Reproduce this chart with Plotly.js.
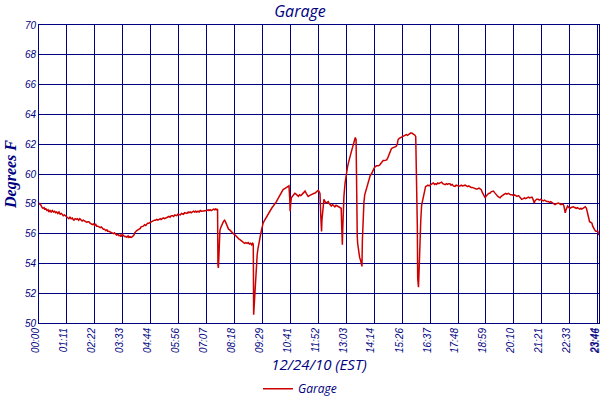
<!DOCTYPE html>
<html>
<head>
<meta charset="utf-8">
<script src="https://cdn.plot.ly/plotly-3.0.1.min.js"></script>
<style>html,body{margin:0;padding:0;background:#fff;}#chart{width:600px;height:400px;}</style>
</head>
<body>
<div id="chart"></div>
<script>
// Tick labels (time of day, hh:mm)
const tickLabels = ['00:00','01:11','02:22','03:33','04:44','05:56','07:07','08:18','09:29','10:41','11:52',
  '13:03','14:14','15:26','16:37','17:48','18:59','20:10','21:21','22:33','23:44','23:46'];

// Sample times (minutes after midnight)
const minutes = [
  0,2,4,6,8,10,13,15,17,20,
  23,25,28,31,34,37,40,42,45,48,
  51,54,57,59,62,65,68,71,74,76,
  79,82,85,87,89,92,95,98,101,104,
  106,110,113,116,119,122,125,127,130,133,
  136,139,142,144,147,150,153,156,159,161,
  164,167,170,173,175,178,181,184,187,190,
  192,195,198,201,204,207,209,212,215,218,
  221,224,227,229,232,235,238,240,242,244,
  246,249,252,255,258,260,263,266,269,272,
  275,277,280,283,286,289,292,294,297,300,
  303,306,309,311,314,317,320,323,326,329,
  331,334,337,340,343,346,348,351,354,357,
  360,363,365,368,371,374,377,380,382,385,
  388,391,394,397,399,402,405,408,411,414,
  416,419,422,425,428,431,433,436,439,442,
  445,448,450,453,455,456,457,458,459,461,
  463,465,467,469,471,473,475,477,479,481,
  483,486,489,492,495,498,501,503,506,509,
  512,515,518,521,524,527,530,533,536,539,
  542,544,546,547,548,550,552,554,556,558,
  560,563,565,567,569,571,574,577,580,583,
  586,588,591,594,597,600,603,605,608,611,
  614,617,620,622,625,628,631,633,635,637,
  639,640,641,643,646,649,652,655,658,661,
  664,667,669,672,675,678,681,684,686,689,
  692,695,698,701,703,706,709,712,714,716,
  718,720,721,723,724,726,728,731,734,737,
  740,743,745,748,751,754,757,760,763,766,
  768,770,771,773,774,775,777,780,782,784,
  786,788,790,792,794,797,799,801,803,805,
  806,808,809,811,812,814,815,817,819,821,
  823,824,826,828,830,832,835,838,841,844,
  848,851,854,857,860,864,868,871,874,877,
  880,883,886,889,892,895,898,901,904,907,
  910,913,915,918,921,924,927,930,933,936,
  939,941,944,947,950,953,956,958,960,962,
  964,965,967,969,971,973,975,977,979,982,
  985,988,991,994,996,999,1002,1005,1008,1011,
  1013,1016,1019,1022,1026,1029,1032,1035,1038,1041,
  1044,1047,1050,1053,1056,1060,1063,1066,1069,1073,
  1076,1079,1083,1086,1089,1092,1095,1098,1101,1104,
  1108,1111,1114,1117,1121,1124,1127,1129,1131,1134,
  1137,1139,1141,1144,1147,1149,1152,1155,1158,1161,
  1163,1166,1169,1172,1175,1178,1180,1183,1186,1189,
  1192,1196,1199,1202,1206,1209,1212,1215,1218,1222,
  1225,1228,1230,1234,1237,1240,1243,1247,1250,1253,
  1256,1259,1262,1264,1266,1268,1272,1275,1278,1281,
  1285,1288,1291,1294,1298,1301,1304,1307,1310,1313,
  1315,1318,1321,1324,1327,1330,1333,1336,1338,1341,
  1343,1345,1347,1350,1353,1356,1359,1362,1365,1369,
  1372,1375,1378,1381,1383,1386,1389,1392,1395,1398,
  1400,1403,1406,1409,1411,1413,1416,1419,1422,1424,
  1426,1427
];

// Garage temperature (degrees F)
const garageTemp = [
  57.95,58.05,57.95,57.8,57.75,57.7,57.75,57.6,57.7,57.55,
  57.6,57.45,57.55,57.45,57.55,57.45,57.5,57.4,57.45,57.35,
  57.45,57.3,57.35,57.3,57.2,57.25,57.2,57.1,57.05,57.0,
  57.1,57.0,57.05,56.95,56.9,57.0,56.95,57.0,56.9,57.0,
  56.95,56.85,56.9,56.85,56.85,56.75,56.8,56.8,56.7,56.65,
  56.6,56.65,56.55,56.65,56.5,56.5,56.45,56.4,56.45,56.4,
  56.3,56.3,56.2,56.25,56.15,56.15,56.1,56.05,56.05,56.0,
  56.05,56.0,55.9,55.95,55.85,55.9,55.8,55.95,55.85,55.8,
  55.8,55.75,55.85,55.75,55.8,55.75,55.8,55.85,55.9,56.05,
  56.15,56.2,56.25,56.3,56.35,56.45,56.45,56.5,56.6,56.55,
  56.65,56.7,56.7,56.75,56.8,56.8,56.85,56.9,56.9,56.95,
  56.9,56.95,57.0,56.95,57.0,57.05,57.0,57.05,57.1,57.1,
  57.15,57.1,57.2,57.2,57.15,57.25,57.25,57.2,57.3,57.3,
  57.25,57.35,57.35,57.3,57.4,57.4,57.35,57.45,57.4,57.45,
  57.4,57.45,57.5,57.45,57.5,57.45,57.5,57.45,57.55,57.5,
  57.5,57.55,57.5,57.55,57.55,57.6,57.55,57.6,57.55,57.6,
  57.65,57.6,57.65,57.6,57.65,53.9,53.7,54.2,55.8,56.2,
  56.4,56.55,56.7,56.75,56.85,56.9,56.8,56.65,56.6,56.4,
  56.3,56.25,56.15,56.05,56.0,55.95,55.85,55.8,55.75,55.65,
  55.6,55.55,55.5,55.45,55.35,55.4,55.35,55.4,55.3,55.35,
  55.25,55.35,55.3,50.55,51.0,52.2,53.2,54.0,54.6,55.0,
  55.4,55.7,56.0,56.25,56.45,56.7,56.85,57.0,57.15,57.25,
  57.4,57.5,57.6,57.75,57.85,57.95,58.05,58.15,58.3,58.45,
  58.6,58.7,58.85,58.95,59.0,59.05,59.1,59.15,59.2,59.2,
  58.3,57.5,57.9,58.4,58.5,58.6,58.7,58.65,58.55,58.5,
  58.6,58.55,58.6,58.7,58.8,58.85,58.7,58.55,58.5,58.55,
  58.6,58.6,58.65,58.7,58.7,58.8,58.85,58.9,58.8,58.7,
  57.2,56.15,56.9,57.4,57.9,58.3,58.2,58.05,58.1,58.15,
  58.0,57.9,57.85,57.95,57.85,57.8,57.9,57.85,57.85,57.8,
  57.75,57.7,56.8,55.25,56.3,57.5,58.5,59.4,59.9,60.2,
  60.45,60.7,60.85,61.05,61.3,61.6,61.8,61.95,62.2,62.4,
  62.45,62.3,58.8,55.8,55.35,54.8,54.6,54.4,54.25,54.0,
  53.8,55.5,57.5,58.1,58.6,58.8,59.05,59.35,59.7,59.9,
  60.05,60.25,60.4,60.5,60.55,60.55,60.6,60.7,60.8,60.9,
  60.9,60.95,60.95,61.1,61.3,61.5,61.7,61.75,61.8,61.8,
  61.85,62.0,62.3,62.4,62.45,62.5,62.55,62.6,62.6,62.65,
  62.6,62.65,62.7,62.75,62.75,62.7,62.65,62.6,62.5,60.4,
  56.6,53.0,52.4,53.9,55.9,57.0,57.9,58.2,58.5,58.85,
  59.15,59.2,59.25,59.2,59.25,59.3,59.35,59.4,59.3,59.35,
  59.3,59.4,59.35,59.4,59.45,59.35,59.3,59.28,59.35,59.3,
  59.35,59.35,59.25,59.3,59.2,59.17,59.25,59.2,59.2,59.2,
  59.25,59.2,59.25,59.25,59.2,59.15,59.2,59.13,59.1,59.1,
  59.05,59.05,59.0,59.0,59.05,59.0,58.95,58.8,58.7,58.55,
  58.4,58.5,58.6,58.65,58.7,58.7,58.8,58.85,58.85,58.75,
  58.65,58.6,58.5,58.45,58.4,58.5,58.55,58.6,58.65,58.7,
  58.65,58.7,58.65,58.6,58.6,58.55,58.6,58.55,58.5,58.55,
  58.45,58.35,58.3,58.35,58.4,58.35,58.4,58.45,58.4,58.45,
  58.45,58.3,58.05,58.2,58.3,58.3,58.3,58.25,58.3,58.27,
  58.2,58.25,58.2,58.15,58.15,58.1,58.15,58.1,58.0,57.95,
  57.95,58.0,58.05,58.05,58.0,57.95,58.0,57.95,57.8,57.4,
  57.6,57.75,57.85,57.75,57.7,57.75,57.8,57.8,57.75,57.7,
  57.75,57.7,57.65,57.7,57.65,57.7,57.75,57.8,57.7,57.4,
  57.1,56.8,56.75,56.7,56.5,56.35,56.25,56.15,56.15,56.15,
  55.95,55.9
];

const yTicks = [50,52,54,56,58,60,62,64,66,68,70];

const tickVals = tickLabels.map(function(t){ const p = t.split(':'); return (+p[0])*60 + (+p[1]); });

const navy = '#000080';
const sans = '"Liberation Sans", Arial, sans-serif';
const human = '"Open Sans", "Noto Sans", sans-serif';

const trace = {
  x: minutes,
  y: garageTemp,
  type: 'scatter',
  mode: 'lines',
  name: '<i>Garage</i>',
  line: {color: '#cc0000', width: 1.5},
  hoverinfo: 'skip'
};

const layout = {
  width: 600,
  height: 400,
  margin: {l: 39, r: 1, t: 25, b: 77},
  paper_bgcolor: '#ffffff',
  plot_bgcolor: '#ffffff',
  showlegend: true,
  title: {
    text: '<i>Garage</i>',
    font: {family: human, size: 16, color: navy},
    x: 0.5, xanchor: 'center',
    yref: 'container', y: 0.972, yanchor: 'middle'
  },
  xaxis: {
    range: [0, 1427],
    tickmode: 'array',
    tickvals: tickVals,
    ticktext: tickLabels.map(function(t){ return '<i>' + t + '</i>'; }),
    tickangle: -90,
    tickfont: {family: sans, size: 10, color: navy},
    ticklabelshift: -3,
    ticklabeloverflow: 'allow',
    ticks: '',
    showgrid: true,
    gridcolor: navy,
    gridwidth: 1,
    showline: true,
    linecolor: navy,
    linewidth: 1,
    mirror: true,
    zeroline: false,
    automargin: false,
    title: {
      text: '<i>12/24/10 (EST)</i>',
      font: {family: human, size: 15, color: navy},
      standoff: 13
    }
  },
  yaxis: {
    range: [50, 70],
    tickmode: 'array',
    tickvals: yTicks,
    ticktext: yTicks.map(function(v){ return '<i>' + v + '</i>'; }),
    tickfont: {family: sans, size: 10, color: navy},
    ticks: '',
    showgrid: true,
    gridcolor: navy,
    gridwidth: 1,
    showline: true,
    linecolor: navy,
    linewidth: 1,
    mirror: true,
    zeroline: false,
    automargin: false,
    title: {
      text: '<b><i>Degrees F</i></b>',
      font: {family: '"Liberation Serif", "DejaVu Serif", serif', size: 16, color: navy},
      standoff: 4
    }
  },
  legend: {
    orientation: 'h',
    x: 0.5, xanchor: 'center', xref: 'container',
    y: 0.028, yanchor: 'middle', yref: 'container',
    font: {family: human, size: 12, color: navy},
    bgcolor: 'rgba(0,0,0,0)'
  }
};

Plotly.newPlot('chart', [trace], layout, {displayModeBar: false, staticPlot: true});
</script>
</body>
</html>
